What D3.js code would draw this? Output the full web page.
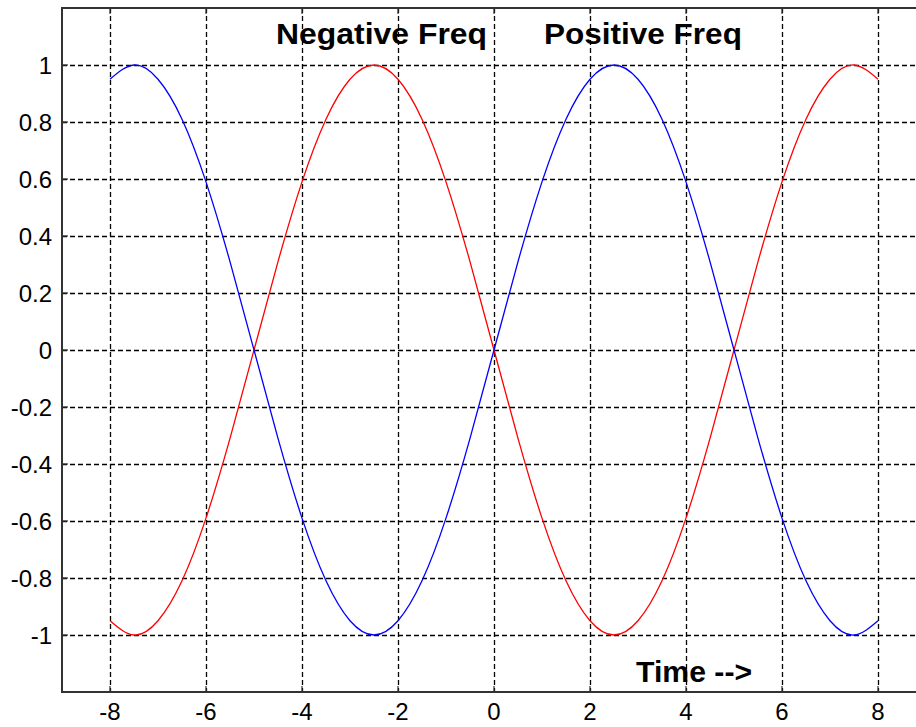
<!DOCTYPE html>
<html>
<head>
<meta charset="utf-8">
<script src="https://cdn.jsdelivr.net/npm/d3@7"></script>
<style>
  html, body { margin: 0; padding: 0; background: #fff; }
  svg { display: block; }
  text { font-family: Arial, "Liberation Sans", sans-serif; fill: #000; }
</style>
</head>
<body>
<svg id="chart" width="916" height="727"></svg>
<script>
// Sample times
const times = [-8, -7.5, -7, -6.5, -6, -5.5, -5, -4.5, -4, -3.5, -3, -2.5, -2, -1.5, -1, -0.5,
               0, 0.5, 1, 1.5, 2, 2.5, 3, 3.5, 4, 4.5, 5, 5.5, 6, 6.5, 7, 7.5, 8];
// Positive-frequency signal (blue)
const positiveFreq = [0.95, 1.00, 0.95, 0.81, 0.59, 0.31, 0.00, -0.31, -0.59, -0.81, -0.95, -1.00, -0.95, -0.81, -0.59, -0.31,
                      0.00, 0.31, 0.59, 0.81, 0.95, 1.00, 0.95, 0.81, 0.59, 0.31, 0.00, -0.31, -0.59, -0.81, -0.95, -1.00, -0.95];
// Negative-frequency signal (red)
const negativeFreq = [-0.95, -1.00, -0.95, -0.81, -0.59, -0.31, 0.00, 0.31, 0.59, 0.81, 0.95, 1.00, 0.95, 0.81, 0.59, 0.31,
                      0.00, -0.31, -0.59, -0.81, -0.95, -1.00, -0.95, -0.81, -0.59, -0.31, 0.00, 0.31, 0.59, 0.81, 0.95, 1.00, 0.95];

const xTicks = [-8, -6, -4, -2, 0, 2, 4, 6, 8];
const xTickLabels = ["-8", "-6", "-4", "-2", "0", "2", "4", "6", "8"];
const yTicks = [1, 0.8, 0.6, 0.4, 0.2, 0, -0.2, -0.4, -0.6, -0.8, -1];
const yTickLabels = ["1", "0.8", "0.6", "0.4", "0.2", "0", "-0.2", "-0.4", "-0.6", "-0.8", "-1"];

const svg = d3.select("#chart");
const x = d3.scaleLinear().domain([-9, 9]).range([62, 926]);
const y = d3.scaleLinear().domain([-1.2, 1.2]).range([692, 8]);

// Dashed grid
const grid = svg.append("g").attr("stroke", "#000").attr("stroke-width", 1.3)
  .attr("stroke-dasharray", "5,3").attr("fill", "none");
grid.selectAll("line.v").data(xTicks).join("line").attr("class", "v")
  .attr("x1", d => Math.round(x(d)) + 0.5).attr("x2", d => Math.round(x(d)) + 0.5)
  .attr("y1", y(1.2)).attr("y2", y(-1.2));
grid.selectAll("line.h").data(yTicks).join("line").attr("class", "h")
  .attr("x1", x(-9)).attr("x2", x(9))
  .attr("y1", d => Math.round(y(d)) + 0.5).attr("y2", d => Math.round(y(d)) + 0.5);

// Curves
const line = d3.line().x((d, i) => x(times[i])).y(d => y(d)).curve(d3.curveNatural);
svg.append("path").datum(negativeFreq).attr("d", line)
  .attr("fill", "none").attr("stroke", "#ff0000").attr("stroke-width", 1.3);
svg.append("path").datum(positiveFreq).attr("d", line)
  .attr("fill", "none").attr("stroke", "#0000ff").attr("stroke-width", 1.3);

// Axes box with inward ticks
const frame = svg.append("g").attr("stroke", "#333").attr("stroke-width", 2).attr("fill", "none");
frame.append("rect").attr("x", x(-9)).attr("y", y(1.2)).attr("width", x(9) - x(-9)).attr("height", y(-1.2) - y(1.2));
const tickLen = 6;
frame.selectAll("line.bt").data(xTicks).join("line").attr("class", "bt")
  .attr("stroke-width", 1.2)
  .attr("x1", d => x(d)).attr("x2", d => x(d)).attr("y1", y(-1.2)).attr("y2", y(-1.2) - tickLen);
frame.selectAll("line.tt").data(xTicks).join("line").attr("class", "tt")
  .attr("stroke-width", 1.2)
  .attr("x1", d => x(d)).attr("x2", d => x(d)).attr("y1", y(1.2)).attr("y2", y(1.2) + tickLen);
frame.selectAll("line.lt").data(yTicks).join("line").attr("class", "lt")
  .attr("stroke-width", 1.2)
  .attr("x1", x(-9)).attr("x2", x(-9) + tickLen).attr("y1", d => y(d)).attr("y2", d => y(d));

// Tick labels
svg.append("g").selectAll("text").data(xTicks).join("text")
  .attr("x", d => x(d)).attr("y", 720).attr("text-anchor", "middle")
  .attr("font-size", 24).text((d, i) => xTickLabels[i]);
svg.append("g").selectAll("text").data(yTicks).join("text")
  .attr("x", 52).attr("y", d => y(d)).attr("dy", "0.36em").attr("text-anchor", "end")
  .attr("font-size", 24).text((d, i) => yTickLabels[i]);

// Annotations
function note(tx, ty, str, len) {
  svg.append("text").attr("x", x(tx)).attr("y", ty)
    .attr("font-size", 30).attr("font-weight", "bold")
    .attr("textLength", len).attr("lengthAdjust", "spacingAndGlyphs")
    .text(str);
}
note(-4.54, 44, "Negative Freq", 211);
note(1.04, 44, "Positive Freq", 198);
note(2.96, 682, "Time -->", 116);
</script>
</body>
</html>
